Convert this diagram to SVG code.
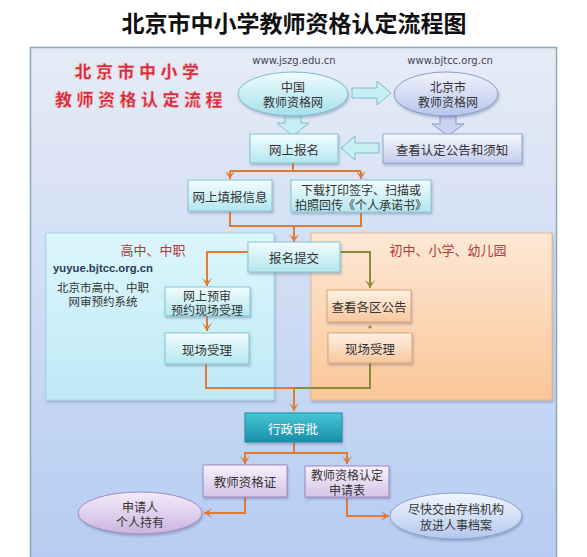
<svg xmlns="http://www.w3.org/2000/svg" width="587" height="557" viewBox="0 0 587 557">
<defs>
<linearGradient id="gPanel" x1="0" y1="0" x2="0" y2="1"><stop offset="0" stop-color="#e6ecf6"/><stop offset="1" stop-color="#b6ccf2"/></linearGradient>
<linearGradient id="gCyan" x1="0" y1="0" x2="0" y2="1"><stop offset="0" stop-color="#f3fdfe"/><stop offset="1" stop-color="#b3e6ef"/></linearGradient>
<linearGradient id="gLav" x1="0" y1="0" x2="0" y2="1"><stop offset="0" stop-color="#f5f7fd"/><stop offset="1" stop-color="#c3cfee"/></linearGradient>
<linearGradient id="gEll1" x1="0" y1="0" x2="0" y2="1"><stop offset="0" stop-color="#effcfe"/><stop offset="1" stop-color="#a6e0ec"/></linearGradient>
<linearGradient id="gEll2" x1="0" y1="0" x2="0" y2="1"><stop offset="0" stop-color="#f1f3fc"/><stop offset="1" stop-color="#b7c5ec"/></linearGradient>
<linearGradient id="gLeft" x1="0" y1="0" x2="0" y2="1"><stop offset="0" stop-color="#dcf6fb"/><stop offset="1" stop-color="#bfe9f5"/></linearGradient>
<linearGradient id="gRight" x1="0" y1="0" x2="0" y2="1"><stop offset="0" stop-color="#fde8d6"/><stop offset="1" stop-color="#fbc697"/></linearGradient>
<linearGradient id="gPeach" x1="0" y1="0" x2="0" y2="1"><stop offset="0" stop-color="#fef1e4"/><stop offset="1" stop-color="#f8c79d"/></linearGradient>
<linearGradient id="gTeal" x1="0" y1="0" x2="0" y2="1"><stop offset="0" stop-color="#45c6d6"/><stop offset="1" stop-color="#1a8fa8"/></linearGradient>
<linearGradient id="gPurp" x1="0" y1="0" x2="0" y2="1"><stop offset="0" stop-color="#f7f1fb"/><stop offset="1" stop-color="#d5c4e8"/></linearGradient>
<linearGradient id="gEll3" x1="0" y1="0" x2="0" y2="1"><stop offset="0" stop-color="#f4ecf9"/><stop offset="1" stop-color="#cbb4df"/></linearGradient>
<linearGradient id="gEll4" x1="0" y1="0" x2="0" y2="1"><stop offset="0" stop-color="#f3f7fe"/><stop offset="1" stop-color="#b3c8ee"/></linearGradient>
<filter id="sh" x="-10%" y="-10%" width="130%" height="140%"><feDropShadow dx="1" dy="2" stdDeviation="1.2" flood-color="#506080" flood-opacity="0.35"/></filter>
<marker id="aOr" markerWidth="10" markerHeight="10" refX="8" refY="5" orient="auto" markerUnits="userSpaceOnUse" viewBox="0 0 10 10">
<path d="M0,0 L8,5 L0,10 L4,5 Z" fill="#e07a35"/>
</marker>
<marker id="aG" markerWidth="10" markerHeight="10" refX="8" refY="5" orient="auto" markerUnits="userSpaceOnUse" viewBox="0 0 10 10">
<path d="M0,0 L8,5 L0,10 L4,5 Z" fill="#8a8a3c"/>
</marker>
<style>
text{font-family:"Noto Sans CJK SC","Liberation Sans",sans-serif;fill:#333;font-size:12.5px;text-anchor:middle;dominant-baseline:central}
.two{font-size:12px}
.t{font-size:23px;font-weight:bold;fill:#111}
.red{font-size:17px;font-weight:900;fill:#d42a3c;stroke:#f7c8c8;stroke-width:0.5;letter-spacing:4.5px}
.url{font-family:"DejaVu Sans","Liberation Sans",sans-serif;font-size:10px;fill:#445}
.lbl{font-size:13px;fill:#b03838}
.sm{font-size:11.5px}
.o{fill:none;stroke:#e07a35;stroke-width:2}
.g{fill:none;stroke:#8a8a3c;stroke-width:2}
.cy{fill:url(#gCyan);stroke:#86c4d2;stroke-width:1}
.lv{fill:url(#gLav);stroke:#93a4cc;stroke-width:1}
.pc{fill:url(#gPeach);stroke:#d9a676;stroke-width:1}
.pu{fill:url(#gPurp);stroke:#9a88bf;stroke-width:1}
.fa{fill:#c6eef3;stroke:#7fbccb;stroke-width:1}
.fb{fill:#c9d2ef;stroke:#8796c4;stroke-width:1}
</style>
</defs>
<rect width="587" height="557" fill="#ffffff"/>
<text class="t" x="294" y="22">北京市中小学教师资格认定流程图</text>
<rect x="30.5" y="47.5" width="526" height="515" fill="url(#gPanel)" stroke="#8ea4bf" stroke-width="1.5"/>
<text class="red" x="139" y="70">北京市中小学</text>
<text class="red" x="141" y="98">教师资格认定流程</text>
<text class="url" x="294" y="60">www.jszg.edu.cn</text>
<text class="url" x="450" y="60">www.bjtcc.org.cn</text>

<g id="regionLeft"><rect x="46" y="233" width="228" height="167" fill="url(#gLeft)" stroke="#a6d6e4" filter="url(#sh)"/>
<text class="lbl" x="153" y="249">高中、中职</text>
<text x="103" y="268" style="font-size:11.3px;font-weight:bold;fill:#2c3a5a;font-family:'Liberation Sans',sans-serif">yuyue.bjtcc.org.cn</text>
<text class="sm"><tspan x="103" y="287">北京市高中、中职</tspan><tspan x="103" y="301">网审预约系统</tspan></text></g>
<g id="regionRight"><rect x="311" y="233" width="241" height="167" fill="url(#gRight)" stroke="#e6b88c" filter="url(#sh)"/>
<text class="lbl" x="448" y="249">初中、小学、幼儿园</text></g>

<g id="connectors">
<polygon class="fa" points="352,88 377,88 377,81 391,93 377,105 377,98 352,98"/>
<polygon class="fa" points="285,114 301,114 301,123 309,123 293,136 277,123 285,123"/>
<polygon class="fb" points="440,116 456,116 456,124 464,124 448,136 432,124 440,124"/>
<polygon class="fa" points="379,143 355,143 355,136 341,148 355,160 355,153 379,153"/>
<path class="o" d="M293,162 V171 M230,171 H361"/>
<path class="o" d="M230,171 V179" marker-end="url(#aOr)"/>
<path class="o" d="M361,171 V179" marker-end="url(#aOr)"/>
<path class="o" d="M230,212 V226 H361 V213"/>
<path class="o" d="M294,226 V242" marker-end="url(#aOr)"/>
<path class="o" d="M248,252 H207 V286" marker-end="url(#aOr)"/>
<path class="g" d="M340,252 H370 V288" marker-end="url(#aG)"/>
<path class="o" d="M207,316 V331" marker-end="url(#aOr)"/>
<circle cx="370" cy="327" r="1.6" fill="#8a8a3c"/>
<path class="o" d="M206,364 V388 H294"/>
<path class="g" d="M370,363 V388 H294"/>
<path class="o" d="M294,388 V411" marker-end="url(#aOr)"/>
<path class="o" d="M294,442 V453 H245 V464" marker-end="url(#aOr)"/>
<path class="o" d="M294,453 H347 V464" marker-end="url(#aOr)"/>
<path class="o" d="M245,497 V513 H204" marker-end="url(#aOr)"/>
<path class="o" d="M347,498 V516 H389" marker-end="url(#aOr)"/>
</g>

<g id="n_china"><ellipse cx="293" cy="94" rx="55" ry="22" fill="url(#gEll1)" stroke="#7db8cb" filter="url(#sh)"/>
<text class="two"><tspan x="293" y="86">中国</tspan><tspan x="293" y="101">教师资格网</tspan></text></g>
<g id="n_bj"><ellipse cx="446" cy="94" rx="52" ry="22" fill="url(#gEll2)" stroke="#8a9cc6" filter="url(#sh)"/>
<text class="two"><tspan x="448" y="86">北京市</tspan><tspan x="448" y="101">教师资格网</tspan></text></g>
<g id="n_reg"><rect x="250" y="134" width="88" height="29" class="cy" filter="url(#sh)"/><text x="294" y="149">网上报名</text></g>
<g id="n_notice"><rect x="383" y="134" width="139" height="29" class="lv" filter="url(#sh)"/><text x="452" y="149">查看认定公告和须知</text></g>
<g id="n_fill"><rect x="188" y="180" width="84" height="31" class="cy" filter="url(#sh)"/><text x="230" y="196">网上填报信息</text></g>
<g id="n_dl"><rect x="291" y="180" width="140" height="32" class="cy" filter="url(#sh)"/><text class="two"><tspan x="361" y="188.5">下载打印签字、扫描或</tspan><tspan x="361" y="203.5">拍照回传《个人承诺书》</tspan></text></g>
<g id="n_submit"><rect x="248" y="242" width="92" height="30" class="cy" filter="url(#sh)"/><text x="294" y="257">报名提交</text></g>
<g id="n_pre"><rect x="165" y="287" width="85" height="29" class="cy" filter="url(#sh)"/><text class="two"><tspan x="207" y="294.5">网上预审</tspan><tspan x="207" y="309.2">预约现场受理</tspan></text></g>
<g id="n_onsiteL"><rect x="165" y="333" width="84" height="31" class="cy" filter="url(#sh)"/><text x="207" y="349">现场受理</text></g>
<g id="n_district"><rect x="327" y="290" width="84" height="32" class="pc" filter="url(#sh)"/><text x="369" y="306">查看各区公告</text></g>
<g id="n_onsiteR"><rect x="328" y="333" width="84" height="30" class="pc" filter="url(#sh)"/><text x="370" y="348">现场受理</text></g>
<g id="n_admin"><rect x="245" y="413" width="97" height="29" fill="url(#gTeal)" stroke="#1a8ba3" filter="url(#sh)"/><text x="293" y="428" style="fill:#ffffff">行政审批</text></g>
<g id="n_cert"><rect x="203" y="465" width="84" height="32" class="pu" filter="url(#sh)"/><text x="245" y="481">教师资格证</text></g>
<g id="n_form"><rect x="305" y="466" width="84" height="31" class="pu" filter="url(#sh)"/><text class="two"><tspan x="347" y="474">教师资格认定</tspan><tspan x="347" y="489">申请表</tspan></text></g>
<g id="n_hold"><ellipse cx="140" cy="513" rx="62" ry="21" fill="url(#gEll3)" stroke="#9f8cc2" filter="url(#sh)"/><text class="two"><tspan x="140" y="506">申请人</tspan><tspan x="140" y="521">个人持有</tspan></text></g>
<g id="n_archive"><ellipse cx="456" cy="516" rx="66" ry="23" fill="url(#gEll4)" stroke="#8da3cf" filter="url(#sh)"/><text class="two"><tspan x="456" y="508">尽快交由存档机构</tspan><tspan x="456" y="524">放进人事档案</tspan></text></g>
</svg>
